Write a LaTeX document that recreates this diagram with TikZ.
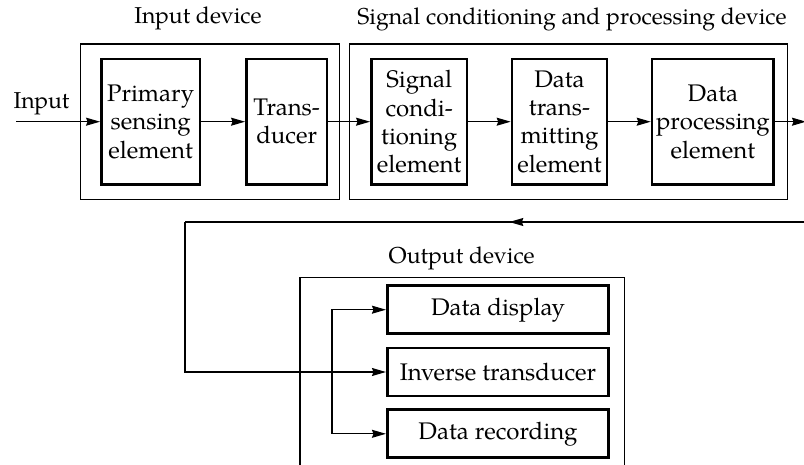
\documentclass[tikz,border=0pt]{standalone}
\usepackage{fontspec}
\setmainfont{texgyrepagella}[Extension=.otf, UprightFont=*-regular, BoldFont=*-bold, ItalicFont=*-italic, BoldItalicFont=*-bolditalic]
\usetikzlibrary{arrows.meta}

\tikzset{
  block/.style={draw, line width=2.7pt, inner sep=0pt, align=center,
    font=\fontsize{24}{28.3}\selectfont},
  group/.style={draw, line width=1.3pt, inner sep=0pt},
  caption/.style={anchor=base, inner sep=0pt, font=\fontsize{23}{28}\selectfont},
  link/.style={line width=1.2pt, -{Stealth[length=14pt,width=8pt,inset=1.5pt]}},
  wire/.style={line width=1.2pt}
}

\begin{document}
\begin{tikzpicture}[x=1pt, y=-1pt]
\useasboundingbox (0,0) rectangle (804,465);

% group frames
\node[group, minimum width=258.6pt, minimum height=155.3pt] (inbox) at (210,121.7) {};
\node[group, minimum width=438.4pt, minimum height=155.3pt] (procbox) at (568.5,121.7) {};
\draw[line width=1.3pt] (300,465) -- (300,277.5) -- (624.3,277.5) -- (624.3,465);

% captions
\node[caption] (incap) at (198,24) {Input device};
\node[caption] (proccap) at (572,25) {Signal conditioning and processing device};
\node[caption] (outcap) at (461.7,263.3) {Output device};
\node[caption] (inlabel) at (41.5,109) {Input};

% functional elements
\node[block, minimum width=98.6pt, minimum height=125.3pt] (sense) at (150.7,121.7) {Primary\\sensing\\element};
\node[block, minimum width=80.6pt, minimum height=125.3pt] (trans) at (286.7,121.7) {Trans-\\ducer};
\node[block, minimum width=95.6pt, minimum height=125.3pt] (cond) at (419.2,121.7) {Signal\\condi-\\tioning\\element};
\node[block, minimum width=94.9pt, minimum height=125.3pt] (xmit) at (559.5,121.7) {Data\\trans-\\mitting\\element};
\node[block, minimum width=121.6pt, minimum height=125.3pt] (dproc) at (712.9,121.7) {Data\\processing\\element};

\node[block, minimum width=221.4pt, minimum height=48pt] (disp) at (498,309.7) {Data display};
\node[block, minimum width=221.4pt, minimum height=48pt] (inv) at (498,372) {Inverse transducer};
\node[block, minimum width=221.4pt, minimum height=48pt] (rec) at (498,433.8) {Data recording};

% signal path
\coordinate (src) at (16,121.7);
\coordinate (sink) at (806,121.7);
\draw[link] (src) -- (sense.west);
\draw[link] (sense) -- (trans);
\draw[link] (trans) -- (cond);
\draw[link] (cond) -- (xmit);
\draw[link] (xmit) -- (dproc);
\draw[link] (dproc.east) -- (sink);

% return line to the output device
\coordinate (fbR) at (804,222);
\coordinate (fbM) at (509.3,222);
\coordinate (fbL) at (185,222);
\draw[link] (fbL) |- (inv.west);
\draw[wire] (fbR) -- (fbL);
\draw[link] (fbR) -- (fbM);

% branch feeding display and recorder
\coordinate (br) at (332,372);
\draw[link] (br) |- (disp.west);
\draw[link] (br) |- (rec.west);
\end{tikzpicture}
\end{document}
